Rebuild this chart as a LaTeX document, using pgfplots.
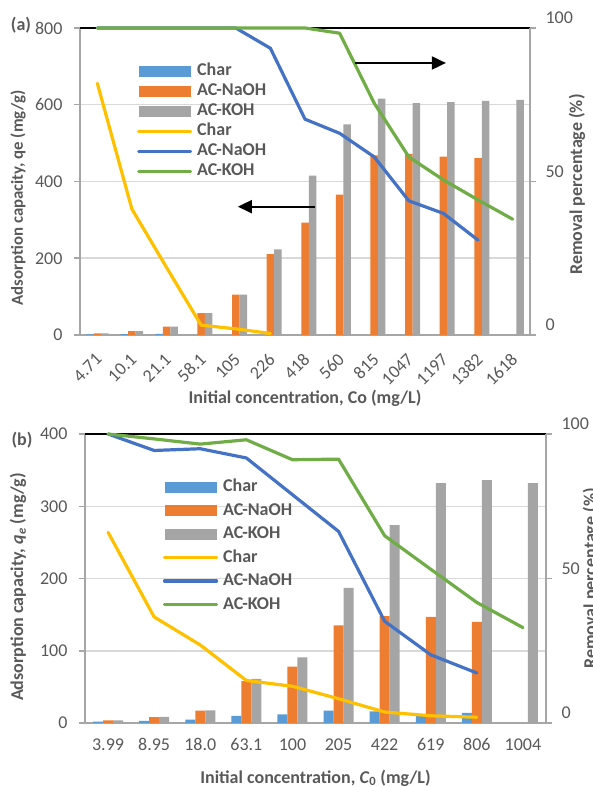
\documentclass[border=0pt]{standalone}
\usepackage{fontspec}
\setmainfont{Carlito}
\usepackage{pgfplots}
\pgfplotsset{compat=1.18}
\usetikzlibrary{arrows.meta}

\definecolor{cbar}{HTML}{5B9BD5}
\definecolor{nbar}{HTML}{ED7D31}
\definecolor{kbar}{HTML}{A5A5A5}
\definecolor{cline}{HTML}{FFC000}
\definecolor{nline}{HTML}{4472C4}
\definecolor{kline}{HTML}{70AD47}
\definecolor{txt}{HTML}{595959}
\definecolor{axl}{HTML}{A6A6A6}
\definecolor{grd}{HTML}{D9D9D9}

\newcommand{\fsz}{\fontsize{18pt}{21pt}\selectfont}

\pgfplotsset{
  barleg/.style={legend image code/.code={\fill[##1] (0pt,-5.5pt) rectangle (52pt,5.5pt);}},
  common/.style={
    scale only axis,
    /pgf/number format/assume math mode=true,
    tick label style={font=\fsz, text=txt},
    label style={font=\fsz\bfseries, text=txt},
    axis line style={draw=axl, line width=2pt, -},
    tick align=outside,
    major tick length=6pt,
    ytick style={draw=axl, line width=1.5pt},
    xtick style={draw=none},
  },
  bars/.style={
    common, ybar=0pt, axis x line*=bottom, axis y line*=left,
    ymajorgrids, grid style={grd, line width=1.5pt},
    ymin=0, clip=false,
    yticklabel style={xshift=-8pt},
  },
  lines/.style={
    common, axis y line*=right, axis x line=none,
    ymin=0, ymax=100, ytick={0,50,100}, clip=false,
    yticklabel style={anchor=west, xshift=6pt, yshift=10pt},
    every axis plot/.append style={line width=3.2pt, line join=round, line cap=round},
    legend style={draw=none, fill=none, inner sep=0pt, outer sep=0pt,
      font=\fsz\bfseries, text=txt, anchor=north west,
      nodes={inner sep=0pt, text height=13pt, text depth=4pt},
      column sep=5pt, legend cell align=left},
    legend image code/.code={\draw[##1] (0pt,0pt) -- (52pt,0pt);},
  },
}

\begin{document}
\begin{tikzpicture}

% ---------- (a) ----------
\begin{axis}[bars, at={(80pt,452pt)}, anchor=south west, width=450pt, height=307pt,
  bar width=7.5pt, xmin=-0.5, xmax=12.5, ymax=800, ytick={0,200,400,600,800},
  xtick={0,...,12},
  xticklabels={4.71,10.1,21.1,58.1,105,226,418,560,815,1047,1197,1382,1618},
  xticklabel style={xshift=4pt, yshift=-13pt, rotate=45, anchor=east},
  xlabel={Initial concentration, Co (mg/L)},
  xlabel style={at={(axis description cs:0.5,-0.205)}, anchor=center},
  ylabel={Adsorption capacity, qe (mg/g)},
  ylabel style={at={(axis description cs:-0.1378,0.446)}, anchor=center,
    font=\fontsize{16.8pt}{20pt}\selectfont\bfseries},
]
\addplot[fill=cbar, draw=none] coordinates {(0,1.5) (1,2) (2,3)};
\addplot[fill=nbar, draw=none] coordinates {(0,4) (1,10) (2,22) (3,57) (4,105) (5,211) (6,293) (7,366) (8,468) (9,472) (10,465) (11,461)};
\addplot[fill=kbar, draw=none] coordinates {(0,4) (1,10) (2,22) (3,57) (4,105) (5,223) (6,415) (7,549) (8,616) (9,604) (10,607) (11,610) (12,613)};
\draw[black, line width=2.2pt] (rel axis cs:0,1) -- (rel axis cs:1,1);
\end{axis}

\begin{axis}[lines, at={(80pt,452pt)}, anchor=south west, width=450pt, height=307pt,
  xmin=-0.5, xmax=12.5,
  ylabel={Removal percentage (\%)},
  ylabel style={at={(axis description cs:1.1044,0.49)}, anchor=center},
  legend style={at={(axis description cs:0.1267,0.886)}, row sep=3pt},
  legend entries={Char,AC-NaOH,AC-KOH,Char,AC-NaOH,AC-KOH},
]
\addlegendimage{barleg, fill=cbar, draw=none}
\addlegendimage{barleg, fill=nbar, draw=none}
\addlegendimage{barleg, fill=kbar, draw=none}
\addplot[cline] coordinates {(0,82) (1,41) (2,22) (3,3.2) (4,2) (5,0.5)};
\addplot[nline] coordinates {(0,100) (1,100) (2,100) (3,100) (4,100) (5,93.4) (6,70.3) (7,65.7) (8,58) (9,43.7) (10,39.6) (11,30.9)};
\addplot[kline] coordinates {(0,100) (1,100) (2,100) (3,100) (4,100) (5,100) (6,100) (7,98.3) (8,75.5) (9,58) (10,50.5) (11,44) (12,37.7)};
\draw[-{Triangle[length=14pt,width=13pt]}, line width=2pt, black] (axis cs:7.445,88.6) -- (axis cs:10.07,88.6);
\draw[-{Triangle[length=14pt,width=13pt]}, line width=2pt, black] (axis cs:6.29,41.8) -- (axis cs:4.06,41.8);
\end{axis}

\node[font=\fsz\bfseries, text=txt] at (21pt,762pt) {(a)};

% ---------- (b) ----------
\begin{axis}[bars, at={(85pt,64pt)}, anchor=south west, width=461pt, height=289pt,
  bar width=10pt, xmin=-0.5, xmax=9.5, ymax=400, ytick={0,100,200,300,400},
  xtick={0,...,9},
  xticklabels={3.99,8.95,18.0,63.1,100,205,422,619,806,1004},
  xticklabel style={yshift=-6pt},
  xlabel={Initial concentration, \textit{C}\textsubscript{0} (mg/L)},
  xlabel style={at={(axis description cs:0.5,-0.19)}, anchor=center},
  ylabel={Adsorption capacity, \textit{q}\textsubscript{\textit{e}} (mg/g)},
  ylabel style={at={(axis description cs:-0.1453,0.47)}, anchor=center},
]
\addplot[fill=cbar, draw=none] coordinates {(0,2) (1,3) (2,4.5) (3,9.7) (4,12) (5,17) (6,16) (7,12) (8,14)};
\addplot[fill=nbar, draw=none] coordinates {(0,3.6) (1,8.3) (2,17) (3,58) (4,78) (5,135) (6,148) (7,147) (8,140)};
\addplot[fill=kbar, draw=none] coordinates {(0,3.6) (1,8.5) (2,17.5) (3,61) (4,91) (5,187) (6,274) (7,332) (8,336) (9,332)};
\draw[black, line width=2.2pt] (rel axis cs:0,1) -- (rel axis cs:1,1);
\end{axis}

\begin{axis}[lines, at={(85pt,64pt)}, anchor=south west, width=461pt, height=289pt,
  xmin=-0.5, xmax=9.5,
  ylabel={Removal percentage (\%)},
  ylabel style={at={(axis description cs:1.0976,0.5)}, anchor=center},
  legend style={at={(axis description cs:0.169,0.846)}, row sep=6.5pt},
  legend entries={Char,AC-NaOH,AC-KOH,Char,AC-NaOH,AC-KOH},
]
\addlegendimage{barleg, fill=cbar, draw=none}
\addlegendimage{barleg, fill=nbar, draw=none}
\addlegendimage{barleg, fill=kbar, draw=none}
\addplot[cline] coordinates {(0,66) (1,36.7) (2,27) (3,14.7) (4,12.7) (5,8.4) (6,3.8) (7,2.5) (8,2)};
\addplot[nline] coordinates {(0,100) (1,94.3) (2,94.9) (3,91.7) (4,79) (5,66.3) (6,35.2) (7,23.6) (8,17.3)};
\addplot[kline] coordinates {(0,100) (1,98.3) (2,96.5) (3,98) (4,91.1) (5,91.3) (6,64.8) (7,53.2) (8,41.7) (9,33)};
\end{axis}

\node[font=\fsz\bfseries, text=txt] at (22pt,347pt) {(b)};

\pgfresetboundingbox
\useasboundingbox (0,0) rectangle (592pt,787pt);
\end{tikzpicture}
\end{document}
